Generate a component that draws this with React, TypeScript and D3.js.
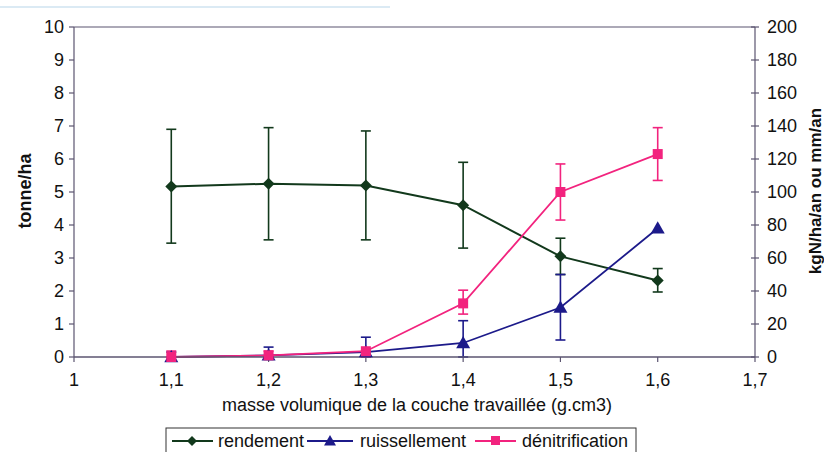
import React from "react";
import * as d3 from "d3";

const xs = [1.1, 1.2, 1.3, 1.4, 1.5, 1.6];
const rendement = [5.17, 5.25, 5.2, 4.6, 3.05, 2.32];
const rendLow = [3.45, 3.55, 3.55, 3.3, 2.5, 1.97];
const rendHigh = [6.9, 6.95, 6.85, 5.9, 3.6, 2.68];
const ruissellement = [0, 1, 3, 8.5, 30, 78];
const ruisLow = [0, 0, 0, 0, 10.3, 78];
const ruisHigh = [3, 6, 12, 22, 50, 78];
const denitrification = [0, 1, 3.5, 32.5, 100, 123];
const denLow = [0, 0, 0, 26, 83, 107];
const denHigh = [3.6, 3.6, 3.6, 40.5, 117, 139];
const xTicks = [1, 1.1, 1.2, 1.3, 1.4, 1.5, 1.6, 1.7];
const leftTicks = [0, 1, 2, 3, 4, 5, 6, 7, 8, 9, 10];
const rightTicks = [0, 20, 40, 60, 80, 100, 120, 140, 160, 180, 200];

const GREEN = "#12391c";
const BLUE = "#1c1a8a";
const PINK = "#f2237e";
const FRAME = "#5b5470";
const FONT = "'Liberation Sans', Arial, sans-serif";

const L = 74, R = 755, T = 27, B = 357;

export default function App() {
  const x = d3.scaleLinear().domain([1, 1.7]).range([L, R]);
  const yL = d3.scaleLinear().domain([0, 10]).range([B, T]);
  const yR = d3.scaleLinear().domain([0, 200]).range([B, T]);
  const fmt = (v: number) => String(v).replace(".", ",");

  const lineL = d3.line<number>().x((_, i) => x(xs[i])).y((d) => yL(d));
  const lineR = d3.line<number>().x((_, i) => x(xs[i])).y((d) => yR(d));

  const diamond = (cx: number, cy: number, s = 6) =>
    `M${cx},${cy - s}L${cx + s},${cy}L${cx},${cy + s}L${cx - s},${cy}Z`;
  const tri = (cx: number, cy: number, s = 7) =>
    `M${cx},${cy - s}L${cx + s},${cy + s * 0.75}L${cx - s},${cy + s * 0.75}Z`;

  const errBar = (xv: number, lo: number, hi: number, color: string, key: string) => {
    const cx = x(xv);
    return (
      <g key={key} stroke={color} strokeWidth={1.6}>
        <line x1={cx} x2={cx} y1={lo} y2={hi} />
        <line x1={cx - 5} x2={cx + 5} y1={lo} y2={lo} />
        <line x1={cx - 5} x2={cx + 5} y1={hi} y2={hi} />
      </g>
    );
  };

  return (
    <svg width={824} height={452} style={{ position: "absolute", left: 0, top: 0, background: "#fff" }}>
      <line x1={0} x2={390} y1={7} y2={7} stroke="#cfe3f0" strokeWidth={1.5} />
      {/* frame */}
      <line x1={L} x2={R} y1={T} y2={T} stroke={FRAME} strokeWidth={1.2} />
      <line x1={L} x2={L} y1={T} y2={B} stroke={FRAME} strokeWidth={1.2} />
      <line x1={R} x2={R} y1={T} y2={B} stroke={FRAME} strokeWidth={1.2} />
      {/* left ticks */}
      {leftTicks.map((t) => (
        <g key={"l" + t}>
          <line x1={L - 5} x2={L} y1={yL(t)} y2={yL(t)} stroke={FRAME} strokeWidth={1.2} />
          <text x={L - 10} y={yL(t)} dy="0.36em" textAnchor="end" fontFamily={FONT} fontSize={18} fill="#111">
            {t}
          </text>
        </g>
      ))}
      {/* right ticks */}
      {rightTicks.map((t) => (
        <g key={"r" + t}>
          <line x1={R - 4} x2={R + 4} y1={yR(t)} y2={yR(t)} stroke={FRAME} strokeWidth={1.2} />
          <text x={R + 12} y={yR(t)} dy="0.36em" textAnchor="start" fontFamily={FONT} fontSize={18} fill="#111">
            {t}
          </text>
        </g>
      ))}
      {/* x ticks */}
      {xTicks.map((t) => (
        <g key={"x" + t}>
          <line x1={x(t)} x2={x(t)} y1={B} y2={B + 5} stroke={FRAME} strokeWidth={1.2} />
          <text x={x(t)} y={B + 29} textAnchor="middle" fontFamily={FONT} fontSize={18} fill="#111">
            {fmt(t)}
          </text>
        </g>
      ))}
      {/* titles */}
      <text x={417} y={411} textAnchor="middle" fontFamily={FONT} fontSize={18} fill="#111">
        masse volumique de la couche travaillée (g.cm3)
      </text>
      <text transform={`translate(31,191) rotate(-90)`} textAnchor="middle" fontFamily={FONT} fontSize={18} fontWeight="bold" fill="#111">
        tonne/ha
      </text>
      <text transform={`translate(821,191) rotate(-90)`} textAnchor="middle" fontFamily={FONT} fontSize={17} fontWeight="bold" fill="#111">
        kgN/ha/an ou mm/an
      </text>

      {/* error bars */}
      {xs.map((v, i) => errBar(v, yL(rendLow[i]), yL(rendHigh[i]), GREEN, "ge" + i))}
      {xs.map((v, i) => (ruisHigh[i] !== ruisLow[i] ? errBar(v, yR(ruisLow[i]), yR(ruisHigh[i]), BLUE, "be" + i) : null))}
      {xs.map((v, i) => errBar(v, yR(denLow[i]), yR(denHigh[i]), PINK, "pe" + i))}

      {/* lines */}
      <path d={lineL(rendement) || ""} fill="none" stroke={GREEN} strokeWidth={2} />
      <path d={lineR(ruissellement) || ""} fill="none" stroke={BLUE} strokeWidth={1.8} />
      <path d={lineR(denitrification) || ""} fill="none" stroke={PINK} strokeWidth={1.8} />
      <line x1={L} x2={R} y1={B} y2={B} stroke={FRAME} strokeWidth={1.4} />

      {/* markers */}
      {rendement.map((d, i) => (
        <path key={"gm" + i} d={diamond(x(xs[i]), yL(d))} fill={GREEN} />
      ))}
      {ruissellement.map((d, i) => (
        <path key={"bm" + i} d={tri(x(xs[i]), yR(d))} fill={BLUE} />
      ))}
      {denitrification.map((d, i) => (
        <rect key={"pm" + i} x={x(xs[i]) - 5} y={yR(d) - 5} width={10} height={10} fill={PINK} />
      ))}

      {/* legend */}
      <rect x={166} y={428} width={470} height={30} fill="#fff" stroke="#333" strokeWidth={1} />
      <line x1={172} x2={213} y1={441} y2={441} stroke={GREEN} strokeWidth={2} />
      <path d={diamond(192, 441, 5)} fill={GREEN} />
      <text x={218} y={447} fontFamily={FONT} fontSize={18} fill="#111">rendement</text>
      <line x1={307} x2={353} y1={441} y2={441} stroke={BLUE} strokeWidth={1.8} />
      <path d={tri(330, 441, 6)} fill={BLUE} />
      <text x={360} y={447} fontFamily={FONT} fontSize={18} fill="#111">ruissellement</text>
      <line x1={475} x2={516} y1={441} y2={441} stroke={PINK} strokeWidth={1.8} />
      <rect x={491} y={436} width={9} height={9} fill={PINK} />
      <text x={522} y={447} fontFamily={FONT} fontSize={18} fill="#111">dénitrification</text>
    </svg>
  );
}
